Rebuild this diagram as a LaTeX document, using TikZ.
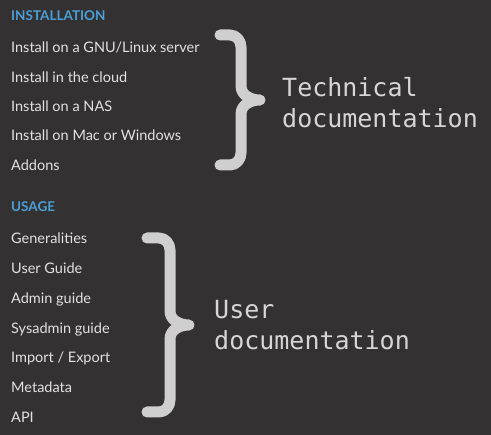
\documentclass[tikz,border=0pt]{standalone}
\usepackage{fontspec}
\setmainfont{Lato}
\newfontfamily\monofont{DejaVu Sans Mono}
\usepackage{xcolor}
\usetikzlibrary{positioning}
\definecolor{pagebg}{HTML}{333131}
\definecolor{headblue}{HTML}{4A9FD6}
\definecolor{itemgray}{HTML}{E2E2E2}
\definecolor{docgray}{HTML}{D6D6D6}
\definecolor{bracegray}{HTML}{CFCFCF}

\begin{document}
\begin{tikzpicture} [x=1pt, y=-1pt,
                heading/.style = {anchor=base west, inner sep=0pt, text=headblue, font=\fontsize{13.5}{16}\selectfont\bfseries},
                item/.style = {anchor=base west, inner sep=0pt, text=itemgray, font=\fontsize{14.5}{17}\selectfont},
                doc label/.style = {anchor=base west, inner sep=0pt, text=docgray, font=\monofont\fontsize{25}{31}\selectfont},
                brace line/.style = {draw=bracegray, line width=11pt, line cap=round, line join=round}
            ]
            \fill[pagebg] (0,0) rectangle (491,435);
            \useasboundingbox (0,0) rectangle (491,435);
            % installation menu
            \node[heading] (inst) at (11,20.7) {INSTALLATION};
            \node[item] (i1) at (11,52.7) {Install on a GNU/Linux server};
            \node[item] (i2) at ([yshift=-29.4pt] i1.base west) {Install in the cloud};
            \node[item] (i3) at ([yshift=-29.4pt] i2.base west) {Install on a NAS};
            \node[item] (i4) at ([yshift=-29.4pt] i3.base west) {Install on Mac or Windows};
            \node[item] (i5) at ([yshift=-29.4pt] i4.base west) {Addons};
            % usage menu
            \node[heading] (usage) at (11,211.7) {USAGE};
            \node[item] (u1) at (11,244) {Generalities};
            \node[item] (u2) at ([yshift=-29.7pt] u1.base west) {User Guide};
            \node[item] (u3) at ([yshift=-29.7pt] u2.base west) {Admin guide};
            \node[item] (u4) at ([yshift=-29.7pt] u3.base west) {Sysadmin guide};
            \node[item] (u5) at ([yshift=-29.7pt] u4.base west) {Import / Export};
            \node[item] (u6) at ([yshift=-29.7pt] u5.base west) {Metadata};
            \node[item] (u7) at ([yshift=-29.7pt] u6.base west) {API};
            % braces
            \draw[brace line] (220,35) -- (230,35) to[out=0,in=90] (241,47) -- (241,86) to[out=-90,in=180] (260,100) to[out=180,in=90] (241,114) -- (241,153) to[out=-90,in=0] (230,165) -- (220,165);
            \draw[brace line] (147,238) -- (159,238) to[out=0,in=90] (170,250) -- (170,311) to[out=-90,in=180] (189,325) to[out=180,in=90] (170,339) -- (170,400) to[out=-90,in=0] (159,412) -- (147,412);
            % labels
            \node[doc label] (tech) at (282,97) {Technical};
            \node[doc label] (techdoc) at ([yshift=-31pt] tech.base west) {documentation};
            \node[doc label] (user) at (214,318.3) {User};
            \node[doc label] (userdoc) at ([yshift=-31.7pt] user.base west) {documentation};
        \end{tikzpicture}
\end{document}
